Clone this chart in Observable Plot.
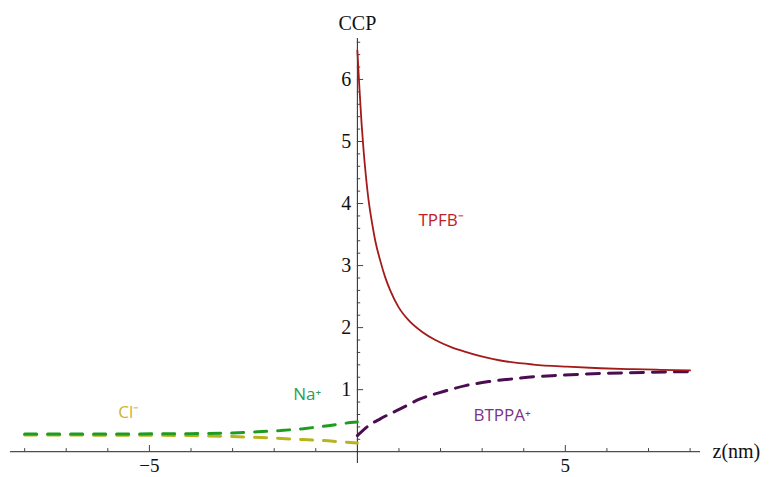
<!DOCTYPE html>
<html>
<head>
<meta charset="utf-8">
<script src="https://cdn.jsdelivr.net/npm/d3@7"></script>
<script src="https://cdn.jsdelivr.net/npm/@observablehq/plot@0.6"></script>
<style>
  html, body { margin: 0; padding: 0; background: #fff; }
</style>
</head>
<body>
<div id="chart"></div>
<script>
// TPFB- (solid red)
const tpfbZ = [0, 0.05, 0.1, 0.15, 0.2, 0.27, 0.35, 0.43, 0.55, 0.67, 0.79, 0.99, 1.23, 1.56, 1.875, 2.24, 2.6, 2.96, 3.44, 4.23, 5.04, 5.84, 6.64, 7.3, 8.0];
const tpfbV = [6.47, 5.85, 5.3, 4.85, 4.48, 4.05, 3.70, 3.40, 3.08, 2.81, 2.60, 2.33, 2.12, 1.93, 1.80, 1.69, 1.61, 1.54, 1.47, 1.405, 1.37, 1.345, 1.33, 1.32, 1.31];
// BTPPA+ (dashed purple)
const btppaZ = [0, 0.27, 0.55, 1.03, 1.51, 2.07, 2.6, 3.16, 3.68, 4.28, 4.68, 5.84, 7.0, 8.0];
const btppaV = [0.26, 0.42, 0.53, 0.69, 0.85, 0.97, 1.065, 1.13, 1.17, 1.21, 1.225, 1.26, 1.28, 1.29];
// Na+ (dashed green)
const naZ = [-8, -6, -4, -3, -2.4, -1.85, -1.3, -0.7, -0.17, 0];
const naV = [0.285, 0.285, 0.29, 0.30, 0.32, 0.34, 0.37, 0.42, 0.47, 0.48];
// Cl- (dashed yellow)
const clZ = [-8, -5, -4, -3, -2, -1.3, -0.7, -0.3, 0];
const clV = [0.27, 0.265, 0.26, 0.245, 0.22, 0.195, 0.175, 0.155, 0.14];

// ticks
const xMajorTicks = [-5, 5];
const xMinorTicks = [-8, -7, -6, -4, -3, -2, -1, 1, 2, 3, 4, 6, 7, 8];
const yMajorTicks = [1, 2, 3, 4, 5, 6];
const yMinorTicks = d3.range(1, 34).map(i => +(i * 0.2).toFixed(1)).filter(v => Math.abs(v - Math.round(v)) > 1e-6);

// series labels
const seriesLabels = [
  {name: "TPFB⁻", z: 1.47, v: 3.73, color: "#c0202a"},
  {name: "BTPPA⁺", z: 2.79, v: 0.58, color: "#7a3585"},
  {name: "Na⁺", z: -1.54, v: 0.92, color: "#2e9e55"},
  {name: "Cl⁻", z: -5.75, v: 0.63, color: "#d4b030"}
];

const zip = (zs, vs) => zs.map((z, i) => ({z, v: vs[i]}));

const chart = Plot.plot({
  width: 769,
  height: 477,
  marginLeft: 10,
  marginRight: 69,
  marginTop: 38,
  marginBottom: 14,
  style: {fontFamily: "Liberation Serif", background: "#fff"},
  x: {domain: [-8.34, 8.25], axis: null},
  y: {domain: [-0.19, 6.66], axis: null},
  marks: [
    // axes
    Plot.ruleY([0], {stroke: "#222", strokeWidth: 1}),
    Plot.ruleX([0], {stroke: "#222", strokeWidth: 1}),
    Plot.ruleX(xMinorTicks, {x: d => d, y1: 0, y2: 0.05, stroke: "#444"}),
    Plot.ruleX(xMajorTicks, {x: d => d, y1: 0, y2: 0.1, stroke: "#444"}),
    Plot.ruleY(yMinorTicks, {y: d => d, x1: 0, x2: 0.08, stroke: "#444"}),
    Plot.ruleY(yMajorTicks, {y: d => d, x1: 0, x2: 0.15, stroke: "#444"}),
    Plot.text(xMajorTicks, {x: d => d, y: 0, text: d => (d < 0 ? "\u2212" : "") + Math.abs(d), dy: 14, fontSize: 19, fill: "#111"}),
    Plot.text(yMajorTicks, {x: 0, y: d => d, text: d => String(d), dx: -6, textAnchor: "end", fontSize: 20, fill: "#111"}),
    Plot.text(["CCP"], {x: 0, frameAnchor: "top", dy: -23, text: d => d, fontSize: 20, fill: "#111"}),
    Plot.text(["z(nm)"], {y: 0, frameAnchor: "right", dx: 12, textAnchor: "start", text: d => d, fontSize: 20, fill: "#111"}),
    // curves
    Plot.line(zip(clZ, clV), {x: "z", y: "v", stroke: "#b8b41e", strokeWidth: 3, strokeDasharray: "12,11"}),
    Plot.line(zip(naZ, naV), {x: "z", y: "v", stroke: "#1f9c1f", strokeWidth: 3, strokeDasharray: "12,11"}),
    Plot.line(zip(btppaZ, btppaV), {x: "z", y: "v", stroke: "#4a0d52", strokeWidth: 3, strokeDasharray: "13,9", curve: "monotone-x"}),
    Plot.line(zip(tpfbZ, tpfbV), {x: "z", y: "v", stroke: "#a31a1a", strokeWidth: 1.8, curve: "monotone-x"}),
    // series labels
    Plot.text(seriesLabels, {x: "z", y: "v", text: "name", fill: "color", textAnchor: "start", fontSize: 17, fontFamily: "Open Sans"})
  ]
});
document.getElementById("chart").appendChild(chart);
</script>
</body>
</html>
